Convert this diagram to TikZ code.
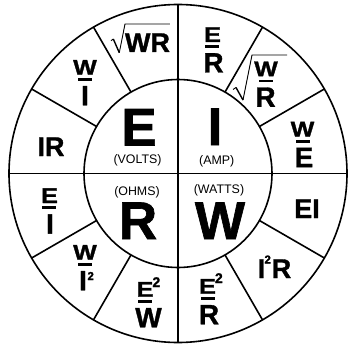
\documentclass[tikz,border=0pt]{standalone}
\usepackage{fontspec}
\setmainfont{Liberation Sans}[BoldFeatures={FakeBold=1.2}]
\usepackage{graphicx}
\newcommand\bigf{\fontsize{53}{53}\selectfont\bfseries}
\newcommand\ringf{\fontsize{27}{27}\selectfont\bfseries}
\newcommand\denf{\fontsize{28}{28}\selectfont\bfseries}
\newcommand\numf{\fontsize{25}{25}\selectfont\bfseries}
\newcommand\supf{\fontsize{14}{14}\selectfont\bfseries}
\newcommand\supsf{\fontsize{11.5}{11.5}\selectfont\bfseries}
\newcommand\unitf{\fontsize{12.4}{12.4}\selectfont}
\newcommand\nm[1]{\scalebox{1}[0.85]{#1}}
\newcommand\fbar[2]{\fill ({#1-7},{#2-1.35}) rectangle ({#1+7},{#2+1.35});}
\begin{document}
\begin{tikzpicture}[x=1pt,y=1pt,
  txt/.style={inner sep=0pt, outer sep=0pt, anchor=base},
  big/.style={txt, font=\bigf},
  unitlbl/.style={txt, font=\unitf},
  ringlbl/.style={txt, font=\ringf},
  numlbl/.style={txt, font=\numf},
  denlbl/.style={txt, font=\denf},
  suplbl/.style={inner sep=0pt, outer sep=0pt, anchor=base west, font=\supf},
  supsmall/.style={suplbl, font=\supsf},
  rad/.style={line width=0.9pt, line join=miter},
  radthick/.style={line width=1.4pt},
  ringline/.style={line width=1.6pt},
  axis/.style={line width=1.9pt}]
\fill[white] (-178,-169.5) rectangle (170,173.5);
\useasboundingbox (-178,-169.5) rectangle (170,173.5);
% circles and dividers
\draw[ringline] (0,0) circle (169);
\draw[ringline] (0,0) circle (94);
\foreach \a in {30,60,120,150,210,240,300,330}
  \draw[ringline] (\a:94) -- (\a:169);
\draw[axis] (-169,0) -- (169,0);
\draw[axis] (0,-169) -- (0,169);
% centre letters
\node[big] (E) at (-39,28) {E};
\node[big] (I) at (37,28.5) {I};
\node[big] (R) at (-40,-65.5) {R};
\node[big] (W) at (42,-65.5) {W};
\node[unitlbl] (volts) at (-40.5,10.5) {(VOLTS)};
\node[unitlbl] (amp) at (38.7,9.5) {(AMP)};
\node[unitlbl] (ohms) at (-41,-21.5) {(OHMS)};
\node[unitlbl] (watts) at (41,-19.8) {(WATTS)};
% E/R
\node[numlbl] (erN) at (34.5,131.6) {\nm{E}};
\fbar{33.5}{126.8}
\node[denlbl] (erD) at (35.5,101) {R};
% sqrt(W/R)
\node[numlbl] (wrN) at (88,97.3) {\nm{W}};
\fbar{87.5}{92.5}
\node[denlbl] (wrD) at (87.5,66.7) {R};
\draw[rad] (55,84) -- (58,86);
\draw[radthick] (58,86) -- (65,73.5);
\draw[rad] (65,73.5) -- (74,118.5) -- (109,118.5);
% W/E
\node[numlbl] (weN) at (124.5,37) {\nm{W}};
\fbar{124.5}{32.2}
\node[denlbl] (weD) at (126,6.4) {E};
% EI
\node[ringlbl] (ei) at (129,-44.5) {EI};
% I^2 R
\node[ringlbl] (i2) at (83.5,-104.5) {I};
\node[supsmall] (i2s) at (86.5,-90) {2};
\node[ringlbl] (i2r) at (103.5,-104.5) {R};
% E^2/R
\node[numlbl] (e2rN) at (29.5,-120.2) {\nm{E}};
\node[suplbl] (e2rS) at (37,-109.5) {2};
\fbar{29.5}{-125}
\node[denlbl] (e2rD) at (31,-150.8) {R};
% E^2/W
\node[numlbl] (e2wN) at (-33,-123.2) {\nm{E}};
\node[suplbl] (e2wS) at (-25.5,-113.5) {2};
\fbar{-33}{-128}
\node[denlbl] (e2wD) at (-29.5,-153.8) {W};
% W/I^2
\node[numlbl] (wi2N) at (-93,-86.2) {\nm{W}};
\fbar{-92.5}{-91}
\node[denlbl] (wi2D) at (-95,-116.8) {I};
\node[supsmall] (wi2S) at (-90.5,-106.5) {2};
% E/I
\node[numlbl] (eiN) at (-128.5,-29.5) {\nm{E}};
\fbar{-128.5}{-34.3}
\node[denlbl] (eiD) at (-128,-60.1) {I};
% IR
\node[ringlbl] (ir) at (-127,17.5) {IR};
% W/I
\node[numlbl] (wiN) at (-93,98.8) {\nm{W}};
\fbar{-93}{94}
\node[denlbl] (wiD) at (-93,68.2) {I};
% sqrt(WR)
\node[ringlbl] (wr) at (-30.5,121.5) {WR};
\draw[rad] (-67,132.8) -- (-64.7,134.5);
\draw[radthick] (-64.7,134.5) -- (-58.7,120.8);
\draw[rad] (-58.7,120.8) -- (-53,149.5) -- (-8,149.5);
\end{tikzpicture}
\end{document}
